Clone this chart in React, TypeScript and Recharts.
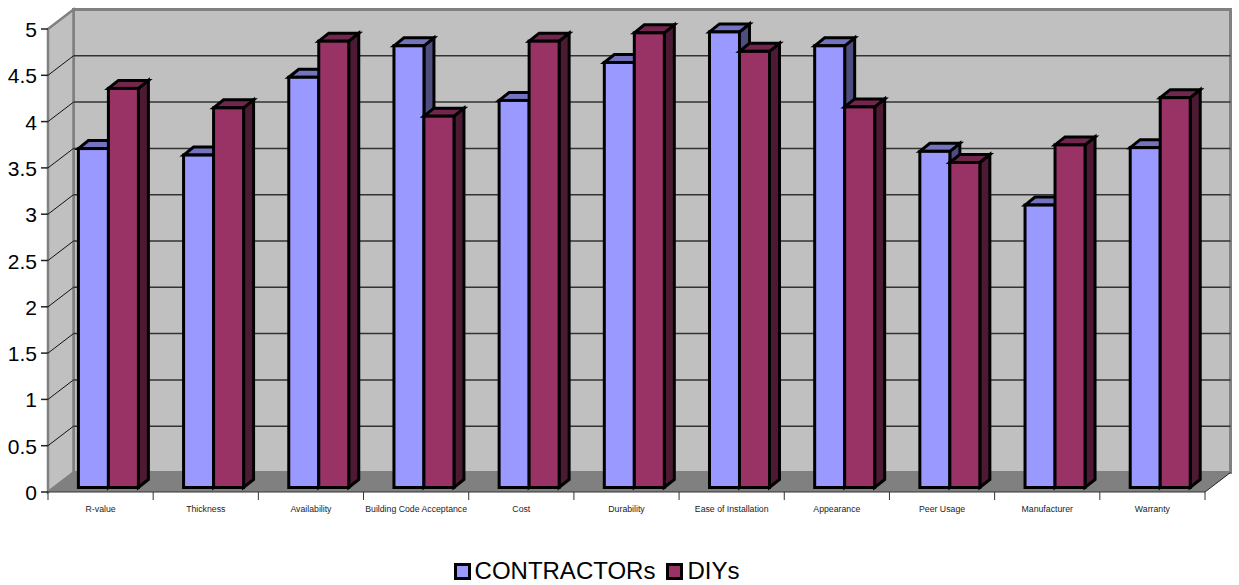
import React from 'react';
import { BarChart, Bar, XAxis, YAxis, CartesianGrid, Legend } from 'recharts';

const categories = [
  'R-value',
  'Thickness',
  'Availability',
  'Building Code Acceptance',
  'Cost',
  'Durability',
  'Ease of Installation',
  'Appearance',
  'Peer Usage',
  'Manufacturer',
  'Warranty',
];
const contractors = [3.66, 3.59, 4.43, 4.77, 4.18, 4.59, 4.92, 4.77, 3.63, 3.05, 3.67];
const diys = [4.31, 4.1, 4.82, 4.01, 4.82, 4.91, 4.71, 4.11, 3.51, 3.7, 4.21];
const yTicks = [0, 0.5, 1, 1.5, 2, 2.5, 3, 3.5, 4, 4.5, 5];

const data = categories.map((name, i) => ({
  name,
  CONTRACTORs: contractors[i],
  DIYs: diys[i],
}));

const WIDTH = 1239;
const HEIGHT = 585;
const LEFT = 48;
const RIGHT = 1205;
const TOP = 29;
const BOTTOM = 492;
const DEPTH_X = 25.5;
const DEPTH_Y = 19.5;
const FONT = '"Liberation Sans", Arial, sans-serif';
const BAND = (RIGHT - LEFT) / categories.length;

// back wall, side wall and floor of the 3D box
function Walls() {
  const backL = LEFT + DEPTH_X;
  const backR = RIGHT + DEPTH_X;
  const backT = TOP - DEPTH_Y;
  const backB = BOTTOM - DEPTH_Y;
  return (
    <g>
      <rect x={backL} y={backT} width={backR - backL} height={backB - backT} fill="#c0c0c0" stroke="#808080" strokeWidth={3} />
      <polygon
        points={`${LEFT},${TOP} ${backL},${backT} ${backL},${backB} ${LEFT},${BOTTOM}`}
        fill="#c0c0c0"
        stroke="#808080"
        strokeWidth={2.5}
      />
      <polygon
        points={`${LEFT},${BOTTOM} ${backL},${backB} ${backR},${backB} ${RIGHT},${BOTTOM}`}
        fill="#808080"
      />
      <line x1={RIGHT} y1={BOTTOM} x2={backR} y2={backB} stroke="#222" strokeWidth={1} />
    </g>
  );
}

function YTick({ y, payload }: any) {
  const v = payload.value;
  const inner = v !== 0 && v !== 5;
  return (
    <g>
      <line x1={LEFT - 7} y1={y} x2={LEFT} y2={y} stroke="#222" strokeWidth={1.5} />
      {inner && <line x1={LEFT} y1={y} x2={LEFT + DEPTH_X} y2={y - DEPTH_Y} stroke="#111" strokeWidth={1} />}
      <text x={LEFT - 11} y={y + 8} textAnchor="end" fontSize={21} fontFamily={FONT} fill="#000">
        {v}
      </text>
    </g>
  );
}

function XTick({ x, payload, index }: any) {
  const left = x - BAND / 2;
  return (
    <g>
      <line x1={left} y1={BOTTOM} x2={left} y2={BOTTOM + 8} stroke="#333" strokeWidth={1} />
      {index === categories.length - 1 && (
        <line x1={left + BAND} y1={BOTTOM} x2={left + BAND} y2={BOTTOM + 8} stroke="#333" strokeWidth={1} />
      )}
      <text
        transform={`translate(${x},${BOTTOM + 20}) scale(0.92,1)`}
        textAnchor="middle"
        fontSize={9.5}
        fontFamily={FONT}
        fill="#222"
      >
        {payload.value}
      </text>
    </g>
  );
}

// extruded column: front face plus top and side faces
function Box3D({ x, y, width, height, fill, topFill, sideFill }: any) {
  const dx = 10;
  const dy = 8;
  const fx = x + 7.4;
  const fy = y - 4.5;
  const r = fx + width;
  const b = fy + height;
  return (
    <g stroke="#000" strokeWidth={3} strokeLinejoin="miter">
      <polygon points={`${r},${fy} ${r + dx},${fy - dy} ${r + dx},${b - dy} ${r},${b}`} fill={sideFill} />
      <polygon points={`${fx},${fy} ${fx + dx},${fy - dy} ${r + dx},${fy - dy} ${r},${fy}`} fill={topFill} />
      <rect x={fx} y={fy} width={width} height={height} fill={fill} />
    </g>
  );
}

function LegendRow({ payload }: any) {
  return (
    <div
      style={{
        display: 'flex',
        justifyContent: 'center',
        alignItems: 'center',
        fontFamily: FONT,
        fontSize: 24,
        color: '#000',
        lineHeight: '26px',
        transform: 'translate(-6px, 6px)',
      }}
    >
      {(payload ?? []).map((p: any, i: number) => (
        <span key={p.value} style={{ display: 'flex', alignItems: 'center', marginLeft: i ? 11 : 0 }}>
          <span
            style={{
              display: 'inline-block',
              boxSizing: 'border-box',
              width: 17,
              height: 17,
              background: p.color,
              border: '3px solid #000',
              marginRight: 4,
            }}
          />
          {p.value}
        </span>
      ))}
    </div>
  );
}

export default function App() {
  return (
    <div style={{ position: 'absolute', left: 0, top: 0, width: WIDTH, height: HEIGHT, background: '#fff' }}>
      <BarChart
        width={WIDTH}
        height={HEIGHT}
        data={data}
        barSize={30}
        barGap={0}
        margin={{ top: TOP, right: WIDTH - RIGHT, bottom: 0, left: 0 }}
      >
        <Walls />
        <CartesianGrid
          vertical={false}
          stroke="#333"
          strokeWidth={1.5}
          x={LEFT + DEPTH_X}
          width={RIGHT - LEFT}
          zIndex={1}
          horizontalCoordinatesGenerator={() =>
            yTicks
              .filter((t) => t !== 0 && t !== 5)
              .map((t) => TOP + ((BOTTOM - TOP) * (5 - t)) / 5 - DEPTH_Y)
          }
        />
        <XAxis
          dataKey="name"
          height={60}
          axisLine={{ stroke: '#333', strokeWidth: 1 }}
          tickLine={false}
          interval={0}
          tick={<XTick />}
        />
        <YAxis
          type="number"
          domain={[0, 5]}
          ticks={yTicks}
          width={LEFT}
          axisLine={false}
          tickLine={false}
          interval={0}
          tick={<YTick />}
        />
        <Legend verticalAlign="bottom" height={33} content={<LegendRow />} />
        <Bar
          dataKey="CONTRACTORs"
          fill="#9999ff"
          isAnimationActive={false}
          shape={<Box3D topFill="#7373bf" sideFill="#4d4d80" />}
        />
        <Bar
          dataKey="DIYs"
          fill="#993366"
          isAnimationActive={false}
          shape={<Box3D topFill="#73264d" sideFill="#4d1a33" />}
        />
      </BarChart>
    </div>
  );
}
